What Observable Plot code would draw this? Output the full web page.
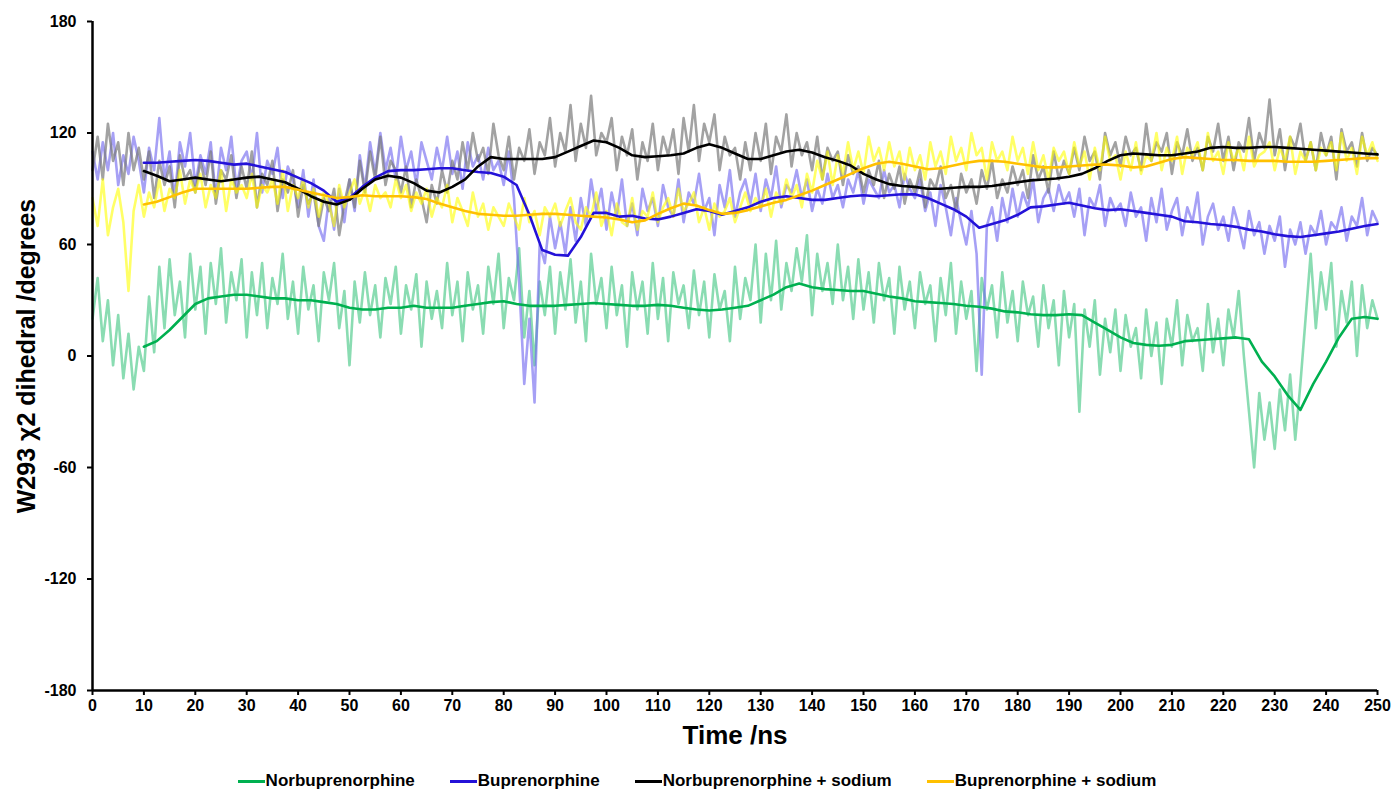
<!DOCTYPE html>
<html><head><meta charset="utf-8">
<script src="https://cdn.jsdelivr.net/npm/d3@7"></script>
<script src="https://cdn.jsdelivr.net/npm/@observablehq/plot@0.6"></script>
<style>
body{margin:0;background:#fff;font-family:"Liberation Sans",Arial,sans-serif;}
#legend{display:flex;justify-content:center;gap:35px;font-weight:bold;font-size:17px;height:20px;margin-top:11px;color:#000;}
.item{display:flex;align-items:center;}
.sw{width:27px;height:3px;margin-right:1px;}
</style></head><body>
<div id="chart"></div><div id="legend"></div>
<script>
const seriesNames = ["Norbuprenorphine","Buprenorphine","Norbuprenorphine + sodium","Buprenorphine + sodium"];
const rawColors = ["#3cc47f","#6a60ee","#7a7a7a","#ffff00"];
const rawOpacity = [0.6,0.6,0.7,0.6];
const smoothColors = ["#00b050","#2412d8","#000000","#ffc000"];
const xTicks = d3.range(0, 251, 10);
const yTicks = [-180,-120,-60,0,60,120,180];
const yTitle = "W293 \u03c72 dihedral /degrees";
const xTitle = "Time /ns";

// raw traces, one sample per ns from 0 to 250
const rawTime = d3.range(0, 251);
const rawNorbup = [
20,42,8,30,-5,22,-12,12,-18,5,
-8,32,2,48,15,52,22,40,10,55,
25,48,12,50,28,58,18,45,30,52,
10,45,22,50,15,42,28,55,20,40,
12,48,25,38,8,45,30,50,15,35,
-5,40,18,45,22,38,10,42,28,48,
12,38,25,44,5,40,20,35,15,50,
22,40,8,45,25,38,12,48,28,55,
15,42,30,58,10,35,-5,40,22,48,
12,45,25,52,18,40,8,55,28,42,
15,48,22,38,5,45,25,40,12,50,
20,42,8,45,28,38,15,46,22,40,
10,44,25,35,8,48,20,42,30,60,
18,55,30,62,25,50,35,58,40,65,
22,55,35,50,28,60,30,48,20,52,
25,45,18,50,30,42,12,48,25,40,
15,45,28,38,8,42,22,50,12,40,
20,35,-8,42,25,38,10,45,18,35,
8,40,22,32,5,38,15,30,-5,35,
10,28,-30,25,5,30,-10,20,2,25,
-8,22,5,15,-12,25,0,18,-15,20,
5,30,-5,22,8,15,-8,28,2,20,
-5,25,10,35,0,-30,-60,-20,-45,-25,
-50,-18,-40,-10,-45,-15,20,55,15,45,
25,50,5,35,18,40,0,38,15,30,
20];
const rawBup = [
110,95,115,100,120,92,108,98,118,105,
88,112,100,128,95,110,85,115,102,120,
92,108,98,115,85,112,100,118,90,105,
110,95,120,88,105,98,112,85,102,95,
80,100,75,95,70,62,85,68,90,72,
95,78,108,90,115,98,120,100,112,95,
118,100,110,92,115,105,95,112,100,118,
98,110,90,115,102,108,95,112,100,105,
92,110,85,40,-15,20,-25,60,50,75,
58,72,55,80,62,85,70,95,78,90,
68,88,75,95,70,82,65,90,78,85,
70,92,80,75,95,72,88,82,98,78,
85,65,92,80,100,75,88,95,82,98,
78,95,85,102,80,92,88,100,85,95,
78,90,82,98,85,92,80,95,88,100,
82,95,90,85,100,88,92,80,98,90,
85,95,78,88,70,92,80,65,85,72,
60,78,55,-10,70,80,62,85,72,90,
75,88,80,95,72,85,90,78,92,82,
88,75,90,65,85,80,92,70,85,78,
82,70,88,75,80,62,85,72,90,68,
78,85,65,80,72,88,60,75,82,68,
75,62,80,70,58,78,65,72,55,70,
62,75,48,68,60,72,55,70,65,78,
60,72,68,80,62,75,70,85,65,78,
72];
const rawNorbupNa = [
100,118,95,125,105,115,92,120,100,112,
95,110,85,105,92,102,80,108,95,100,
88,105,92,110,82,100,95,108,85,102,
90,110,80,98,92,105,78,95,88,100,
75,92,82,88,70,85,78,90,65,82,
95,80,105,88,110,95,118,92,105,100,
88,102,80,95,85,72,92,82,100,88,
105,95,115,100,120,105,112,98,125,108,
100,118,95,112,105,122,98,115,108,128,
102,120,110,135,105,125,112,140,108,120,
115,128,100,118,108,122,95,115,105,125,
100,118,108,122,98,128,110,135,105,125,
115,130,100,118,108,112,95,115,100,120,
105,125,98,118,110,130,102,120,108,115,
100,118,95,112,105,110,92,108,98,102,
88,100,92,105,85,98,90,102,82,95,
88,100,80,95,90,102,85,92,78,98,
88,95,82,100,90,105,85,95,88,102,
92,100,85,108,95,102,88,110,95,105,
98,112,100,118,105,110,95,120,108,115,
102,118,108,112,100,125,105,115,110,120,
98,115,108,122,105,112,100,118,110,125,
105,118,100,115,110,128,105,120,112,138,
108,122,100,118,112,125,105,115,100,120,
108,118,95,122,110,115,102,120,105,112,
108];
const rawBupNa = [
85,70,95,65,80,90,72,35,78,92,
75,88,80,95,78,90,85,100,82,95,
88,98,80,92,85,100,78,95,88,92,
85,98,80,92,88,95,82,100,78,92,
85,95,80,90,75,88,82,70,92,80,
88,95,82,90,78,92,85,88,80,95,
85,92,78,88,82,90,75,85,80,92,
72,85,78,70,88,75,82,68,80,75,
70,82,75,68,85,72,78,65,80,75,
82,70,78,85,72,68,80,75,88,70,
78,65,82,72,70,85,68,78,75,88,
72,80,85,75,90,78,82,88,72,80,
68,82,75,78,85,72,80,88,78,85,
80,90,75,88,82,95,85,92,80,98,
88,105,95,110,92,108,98,115,100,110,
98,118,105,112,100,115,102,110,95,112,
100,108,95,115,102,110,98,118,105,112,
100,120,108,112,95,115,105,110,100,118,
105,112,98,115,100,108,95,112,105,110,
98,115,102,110,95,112,100,118,105,108,
95,110,100,115,98,108,105,120,100,112,
105,118,98,112,108,115,100,120,105,110,
98,115,105,112,100,118,102,108,110,115,
100,112,105,118,98,110,105,115,100,112,
108,115,100,120,105,112,98,118,108,115,
105];

// moving averages, every 2.5 ns from 10 to 250
const smoothTime = d3.range(10, 250.01, 2.5);
const smoothNorbup = [
5,8,14,21, 28,31,32,33, 33,32,31,31, 30,30,29,28, 26,25,25,26,
26,27,26,26, 26,27,28,29, 29.5,28,27,27, 27,27.5,28,28.5, 28,27.5,27,27,
27.5,27,26,25, 24.5,25,26,27, 30,33,37,39, 37,36,35.5,35, 35,33.5,32,31,
29.5,29,28.5,28, 27,26.5,25.5,24, 23.5,22.5,22,22, 22.5,22,18,14, 10,7,6,5.5,
6,8,8.5,9, 9.5,10,9,-3, -11,-21,-29,-15, -3,10,20,21, 20];
const smoothBup = [
104,104,104.5,105, 105.5,105,104,103, 103.5,102,100.5,99, 96,93,89,83, 85,91,96,99.5,
100,100,100.5,101, 101,100,99,98.5, 96.5,92,76,57, 54.5,54,64,77, 77,75,75.5,74,
73.5,75,77,79, 78,76,78,80, 83,85,86,85, 84,84,85,86, 86.5,86,86.5,87,
87,85,82,79, 75,69,71,73, 76,80,80.5,81.5, 82.5,81,79.5,78.5, 79,78,77,76,
75,72.5,72,71, 70.5,69.5,68,67, 65.5,64.5,64,65, 66,67,68.5,70, 71];
const smoothNorbupNa = [
99.5,97,94,95, 96,95,94,95, 96,96.5,95,93.5, 90,86,83,81.5, 84,90,95,97,
96,93,89,88, 91,95,102,107, 106,106,106,106, 107,110,113,116, 115,112,108,107,
107.5,108,109,112, 114,112,109,106, 106,108,110,111, 109.5,107,105,102.5, 98,95,92.5,91.5,
91,90,90,90.5, 91,91,91.5,92.5, 93.5,94.5,95,95.5, 96.5,98,101,105, 108,109,108.5,108,
108,109,110,112, 112.5,112,112,112.5, 112.5,112,111.5,111, 110.5,110,109.5,109, 108.5];
const smoothBupNa = [
81.5,83,85.5,88, 90,90,90,90, 90,90.5,91,91, 89.5,88,86.5,85, 85.5,86.5,86,86,
86,85.5,84.5,82, 80,78,76.5,76, 75.5,75.5,76,76.5, 76.5,76,75.5,75, 74.5,73.5,72,73,
76.5,79.5,82,81, 78.5,76.5,77,78.5, 80.5,82.5,84,86.5, 89,92,95,98, 101,103.5,104.5,103.5,
102,100.5,101,102.5, 104,105,105,104.5, 103.5,102.5,101.5,101.5, 102,102.5,103,103, 102.5,101.5,102,104,
106,107,106.5,106, 105.5,105.5,105,105, 105,104.5,104.5,104.5, 105,105.5,106,106.5, 106.5];

const rawSets = [rawNorbup, rawBup, rawNorbupNa, rawBupNa];
const smoothSets = [smoothNorbup, smoothBup, smoothNorbupNa, smoothBupNa];

const rawMarks = rawSets.map((vals, k) =>
  Plot.line(vals.map((v, i) => ({t: rawTime[i], v})), {
    x: "t", y: "v", stroke: rawColors[k], strokeOpacity: rawOpacity[k], strokeWidth: 2.6
  }));
const smoothMarks = smoothSets.map((vals, k) =>
  Plot.line(vals.map((v, i) => ({t: smoothTime[i], v})), {
    x: "t", y: "v", stroke: smoothColors[k], strokeWidth: 2.6, curve: "linear"
  }));

const chart = Plot.plot({
  width: 1394, height: 760,
  marginLeft: 92, marginRight: 17, marginTop: 21, marginBottom: 70,
  x: {domain: [0, 250]},
  y: {domain: [-180, 180]},
  style: {fontFamily: "'Liberation Sans', Arial, sans-serif", fontSize: "16px", fontWeight: "bold", color: "#000", background: "#fff"},
  marks: [
    ...rawMarks,
    ...smoothMarks,
    Plot.axisY({ticks: yTicks, tickSize: 5, tickPadding: 11, tickFormat: d => String(d), label: null, strokeWidth: 2}),
    Plot.axisX({ticks: xTicks, tickSize: 5, tickPadding: 4, tickFormat: d => String(d), label: null, strokeWidth: 2}),
    Plot.ruleX([0], {stroke: "#000", strokeWidth: 2.5}),
    Plot.ruleY([-180], {stroke: "#000", strokeWidth: 2.5}),
    Plot.text([yTitle], {frameAnchor: "left", textAnchor: "middle", rotate: -90, dx: -66, fontSize: 25, fontWeight: "bold", fill: "#000"}),
    Plot.text([xTitle], {frameAnchor: "bottom", textAnchor: "middle", dy: 53, fontSize: 26, fontWeight: "bold", fill: "#000"})
  ]
});
document.getElementById("chart").append(chart);

const legend = document.getElementById("legend");
seriesNames.forEach((name, k) => {
  const item = document.createElement("div");
  item.className = "item";
  const sw = document.createElement("span");
  sw.className = "sw";
  sw.style.background = smoothColors[k];
  const tx = document.createElement("span");
  tx.textContent = name;
  item.append(sw, tx);
  legend.append(item);
});
</script></body></html>
